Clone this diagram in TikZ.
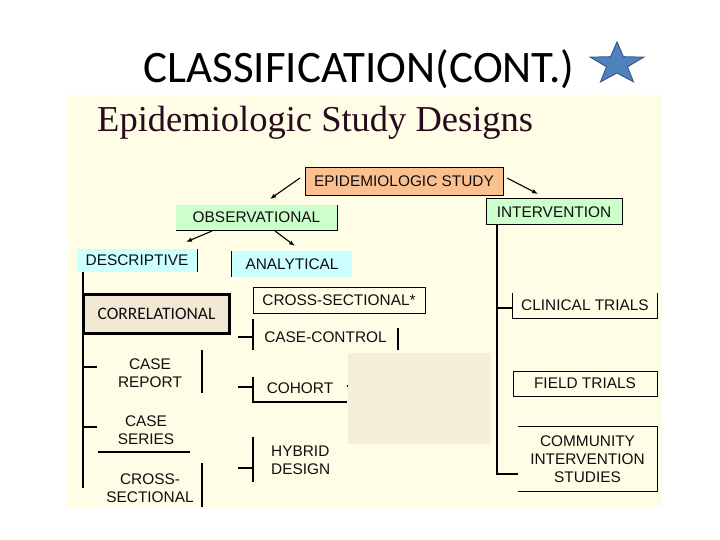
\documentclass[tikz,border=0pt]{standalone}
\usepackage{fontspec}
\setmainfont{Liberation Sans}
\newfontfamily\titlefont{Carlito}
\newfontfamily\headfont{Liberation Serif}
\usetikzlibrary{arrows.meta}
\definecolor{panel}{RGB}{255,253,229}
\definecolor{peach}{RGB}{250,192,144}
\definecolor{mint}{RGB}{204,255,204}
\definecolor{aqua}{RGB}{204,255,255}
\definecolor{beige}{RGB}{242,233,212}
\definecolor{cover}{RGB}{246,239,216}
\definecolor{txt}{RGB}{15,15,15}
\definecolor{headc}{RGB}{40,10,30}
\definecolor{starfill}{RGB}{79,129,189}
\definecolor{starline}{RGB}{56,93,138}
\begin{document}
\begin{tikzpicture}[x=1pt,y=-1pt,
  lbl/.style={font=\fontsize{15.4}{18}\selectfont, text=txt, inner sep=0pt, align=center},
  ln/.style={draw=black, line width=1.1pt},
  arr/.style={ln, -{Latex[length=6pt,width=4.5pt]}},
]
\useasboundingbox (0,0) rectangle (720,540);
\fill[white] (0,0) rectangle (720,540);
% panel
\fill[panel] (67,95) rectangle (662,507);
% title
\node[font=\titlefont\fontsize{45}{50}\selectfont, anchor=base, inner sep=0pt] (title) at (359,83) {CLASSIFICATION(CONT.)};
% star
\filldraw[fill=starfill, draw=starline, line width=1pt]
  ({617+28*cos(90)},{64-22*sin(90)}) -- ({617+11*cos(126)},{64-9*sin(126)}) --
  ({617+28*cos(162)},{64-22*sin(162)}) -- ({617+11*cos(198)},{64-9*sin(198)}) --
  ({617+28*cos(234)},{64-22*sin(234)}) -- ({617+11*cos(270)},{64-9*sin(270)}) --
  ({617+28*cos(306)},{64-22*sin(306)}) -- ({617+11*cos(342)},{64-9*sin(342)}) --
  ({617+28*cos(18)},{64-22*sin(18)}) -- ({617+11*cos(54)},{64-9*sin(54)}) -- cycle;
% subtitle
\node[font=\headfont\fontsize{36.5}{40}\selectfont, text=headc, anchor=base west, inner sep=0pt] (sub) at (97,132) {Epidemiologic Study Designs};

% top level boxes
\node[lbl, fill=peach, draw=black, line width=0.9pt, minimum width=198pt, minimum height=28pt] (epi) at (404,181) {EPIDEMIOLOGIC STUDY};
\node[lbl, fill=mint, minimum width=161pt, minimum height=25pt] (obs) at (256.5,217.5) {OBSERVATIONAL};
\draw[ln] (obs.north east) -- (obs.south east) -- (obs.south west);
\node[lbl, fill=mint, draw=black, line width=1pt, minimum width=136pt, minimum height=26pt] (int) at (554,212) {INTERVENTION};
\node[lbl, fill=aqua, minimum width=120pt, minimum height=23pt] (desc) at (137,260.5) {DESCRIPTIVE};
\draw[ln] (desc.north east) -- (desc.south east);
\node[lbl, fill=aqua, minimum width=120pt, minimum height=26pt] (anal) at (292,264) {ANALYTICAL};
\draw[ln] (anal.north west) -- (anal.south west);

% arrows
\coordinate (a1s) at (300,178); \coordinate (a1e) at (270,199);
\coordinate (a2s) at (507,178); \coordinate (a2e) at (538,194);
\coordinate (a3s) at (212,231); \coordinate (a3e) at (186,242);
\coordinate (a4s) at (275,231); \coordinate (a4e) at (295,246);
\draw[arr] (a1s) -- (a1e);
\draw[arr] (a2s) -- (a2e);
\draw[arr] (a3s) -- (a3e);
\draw[arr] (a4s) -- (a4e);

% descriptive subtree
\coordinate (dtop) at (83,272); \coordinate (dbot) at (83,488);
\draw[ln] (dtop) -- (dbot);
\node[font=\titlefont\fontsize{17.5}{20}\selectfont, text=txt, fill=beige, draw=black, line width=3pt, minimum width=146pt, minimum height=39pt, inner sep=0pt] (corr) at (156.5,314) {CORRELATIONAL};
\node[lbl] (rep) at (150,373) {CASE\\REPORT};
\draw[ln] (83,367) -- (97,367);
\draw[ln] (202,350) -- (202,393);
\node[lbl] (ser) at (146,430) {CASE\\SERIES};
\draw[ln] (83,427) -- (97,427);
\draw[ln] (98,452) -- (190,452);
\node[lbl] (dxs) at (150,488) {CROSS-\\SECTIONAL};
\draw[ln] (202,463) -- (202,507);

% analytical subtree
\node[lbl, draw=black, line width=1pt, minimum width=172pt, minimum height=26pt] (axs) at (339,300) {CROSS-SECTIONAL*};
\node[lbl] (cc) at (325.5,337.5) {CASE-CONTROL};
\draw[ln] (238,337) -- (253,337);
\draw[ln] (253,319) -- (253,350);
\draw[ln] (398,328) -- (398,350);
\node[lbl] (coh) at (300,388) {COHORT};
\draw[ln] (238,387) -- (253,387);
\draw[ln] (253,377) -- (253,402) -- (347,402);
\fill[black] (348,386) circle (1.3pt);
\node[lbl, align=left, anchor=west] (hyb) at (271,460) {HYBRID\\DESIGN};
\draw[ln] (238,468) -- (253,468);
\draw[ln] (253,437) -- (253,482);

% cover patch
\fill[cover] (348,353) rectangle (491,444);

% intervention subtree
\coordinate (itop) at (497,225); \coordinate (ibot) at (497,474);
\draw[ln] (itop) -- (ibot) -- (518,474);
\node[lbl, minimum width=144pt, minimum height=25pt] (clin) at (585,305.5) {CLINICAL TRIALS};
\draw[ln] (clin.north west) -- (clin.south west) -- (clin.south east) -- (clin.north east);
\draw[ln] (497,308) -- (clin.west |- 0,308);
\node[lbl, draw=black, line width=1pt, minimum width=144pt, minimum height=25pt] (field) at (585,383.5) {FIELD TRIALS};
\node[lbl, minimum width=139pt, minimum height=64pt] (com) at (587.5,459) {COMMUNITY\\INTERVENTION\\STUDIES};
\draw[ln] (com.north west) -- (com.north east) -- (com.south east) -- (com.south west);
\end{tikzpicture}
\end{document}
